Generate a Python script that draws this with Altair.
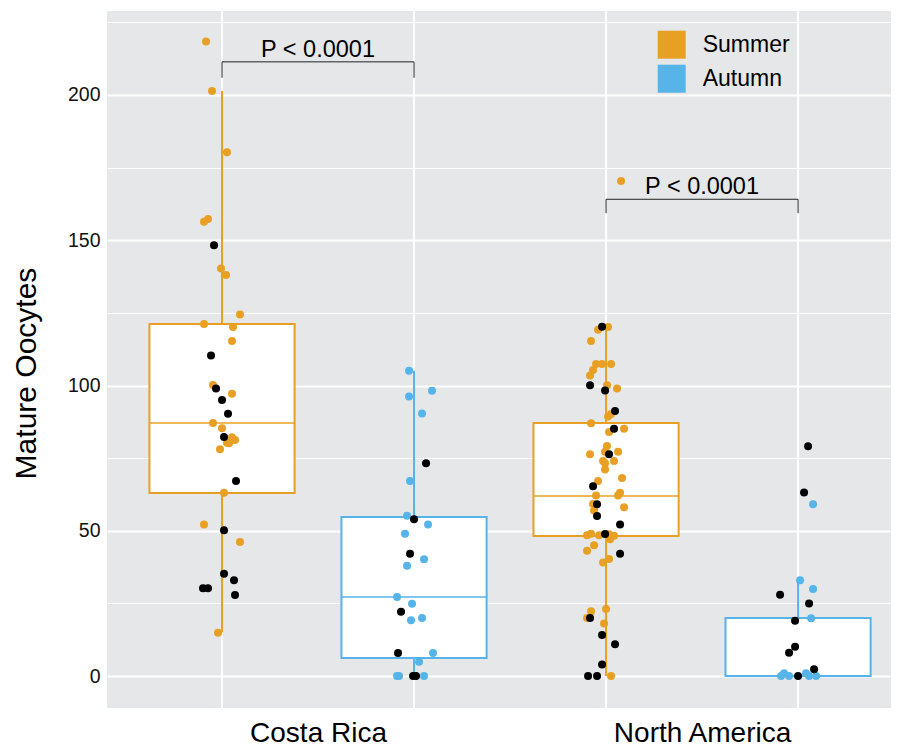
import altair as alt
import pandas as pd

FONT = "Liberation Sans, Arial, Helvetica, sans-serif"

# ---------------- data ----------------
seasons = ["Summer", "Autumn"]
season_colors = ["#E8A024", "#56B4E9"]
regions = ["Costa Rica", "North America"]
region_centers = [1.5, 3.5]

group_pos = [1, 2, 3, 4]
group_season = ["Summer", "Autumn", "Summer", "Autumn"]

q1 = [63.0, 6.2, 48.2, 0.0]
median = [87.1, 27.2, 62.0, 0.0]
q3 = [121.2, 54.7, 87.1, 20.0]
whisker_low = [15.0, 0.0, 0.0, 0.0]
whisker_high = [201.4, 105.1, 120.8, 33.0]

# jitter is given in 1/192 of the spacing between groups
cr_summer_vals = [218.4, 201.4, 180.3, 156.4, 157.3, 140.3, 138.0, 124.4, 121.2, 120.1, 115.3,
                  100.2, 97.2, 87.1, 85.3, 82.2, 81.2, 80.1, 80.3, 78.1, 63.1, 52.2, 46.1, 14.9]
cr_summer_jit = [-16, -10, 5, -18, -14, -1, 4, 18, -18, 11, 10,
                 -9, 10, -9, 0, 10, 13, 7, 5, -2, 2, -18, 18, -4]
cr_summer_black_vals = [148.3, 110.3, 99.0, 95.0, 90.3, 82.3, 67.1, 50.2, 35.2, 33.0, 30.2, 30.2, 27.9]
cr_summer_black_jit = [-8, -11, -6, 0, 6, 2, 14, 2, 2, 12, -19, -14, 13]

cr_autumn_vals = [105.1, 98.2, 96.2, 90.4, 67.1, 55.2, 52.2, 49.0, 40.2, 38.0, 27.2, 24.9,
                  19.2, 20.0, 7.9, 4.9, 0, 0, 0]
cr_autumn_jit = [-5, 18, -5, 8, -4, -7, 14, -9, 10, -7, -17, -2, -3, 8, 19, 5, -17, -15, 10]
cr_autumn_black_vals = [73.2, 54.0, 42.1, 22.1, 7.9, 0, 0]
cr_autumn_black_jit = [12, 0, -4, -13, -16, -1, 2]

na_summer_vals = [170.4, 120.1, 119.2, 115.3, 107.4, 107.4, 107.4, 105.3, 103.4, 100.1, 99.0,
                  89.3, 90.2, 87.0, 85.1, 84.0, 79.2, 77.2, 77.2, 76.3, 74.0, 73.2, 74.0, 71.1,
                  68.2, 67.1, 63.1, 62.1, 62.1, 59.2, 58.1, 57.0, 48.5, 49.0, 48.5, 48.8, 48.3,
                  47.1, 45.0, 43.1, 40.3, 39.1, 23.1, 22.3, 20.0, 18.1, 0]
na_summer_jit = [15, 2, -8, -15, -10, -4, 5, -13, -16, 1, 11,
                 2, 5, -15, 18, 3, 1, -1, 12, -16, -3, -1, 8, -1,
                 16, -8, 14, 12, -10, -13, 18, -12, -19, -15, -7, 3, 8,
                 4, -12, -19, 3, -3, 0, -15, -19, -2, 5]
na_summer_black_vals = [120.2, 100.1, 98.3, 91.2, 85.1, 76.3, 65.3, 59.1, 55.1, 52.2, 48.9,
                        42.1, 20.0, 14.1, 10.9, 4.0, 0, 0]
na_summer_black_jit = [-4, -16, -1, 9, 8, 3, -13, -9, -9, 14, -1, 14, -16, -4, 9, -4, -18, -9]

na_autumn_vals = [59.1, 33.0, 30.0, 19.9, 0, 1, 0, 1, 0, 0]
na_autumn_jit = [15, 2, 15, 13, -17, -14, -9, 8, 11, 18]
na_autumn_black_vals = [79.1, 63.2, 28.0, 25.0, 19.0, 10.1, 8.0, 2.3, 0]
na_autumn_black_jit = [10, 6, -18, 11, -3, -3, -9, 16, 0]

p_labels = ["P < 0.0001", "P < 0.0001"]
bracket_left = [1, 3]
bracket_right = [2, 4]
bracket_y = [211.4, 164.1]
bracket_tip = [205.9, 159.3]

y_ticks = [0, 25, 50, 75, 100, 125, 150, 175, 200, 225]

# ---------------- tables ----------------
BOX_HALF = 0.378
JITTER_UNIT = 192.0

boxes = pd.DataFrame({
    "pos": group_pos, "season": group_season,
    "q1": q1, "median": median, "q3": q3, "lo": whisker_low, "hi": whisker_high,
})
boxes["left"] = boxes["pos"] - BOX_HALF
boxes["right"] = boxes["pos"] + BOX_HALF

rows = []
groups = [
    (1, "Summer", cr_summer_vals, cr_summer_jit, cr_summer_black_vals, cr_summer_black_jit),
    (2, "Autumn", cr_autumn_vals, cr_autumn_jit, cr_autumn_black_vals, cr_autumn_black_jit),
    (3, "Summer", na_summer_vals, na_summer_jit, na_summer_black_vals, na_summer_black_jit),
    (4, "Autumn", na_autumn_vals, na_autumn_jit, na_autumn_black_vals, na_autumn_black_jit),
]
for pos, season, vals, jit, bvals, bjit in groups:
    for v, j in zip(vals, jit):
        rows.append({"x": pos + j / JITTER_UNIT, "value": v, "season": season, "black": False})
    for v, j in zip(bvals, bjit):
        rows.append({"x": pos + j / JITTER_UNIT, "value": v, "season": season, "black": True})
points = pd.DataFrame(rows)
colored = points[~points["black"]]
blacks = points[points["black"]]

brackets = pd.DataFrame({
    "left": bracket_left, "right": bracket_right, "y": bracket_y, "tip": bracket_tip,
    "label": p_labels,
})
brackets["mid"] = (brackets["left"] + brackets["right"]) / 2
tips = pd.DataFrame({
    "x": bracket_left + bracket_right,
    "y": bracket_y + bracket_y,
    "tip": bracket_tip + bracket_tip,
})

grid_df = pd.DataFrame({"pos": group_pos})

# ---------------- scales ----------------
x_scale = alt.Scale(domain=[0.401, 4.484], nice=False, zero=False)
y_scale = alt.Scale(domain=[-11.0, 228.9], nice=False, zero=False)
color_scale = alt.Scale(domain=seasons, range=season_colors)

label_expr = " : ".join(
    [f"datum.value == {c} ? '{r}'" for r, c in zip(regions, region_centers)] + ["''"]
)

x_axis = alt.Axis(values=region_centers, labelExpr=label_expr, grid=False, ticks=False,
                  domain=False, labelFontSize=28, labelPadding=11, labelColor="black",
                  labelFont=FONT, title="")
y_axis = alt.Axis(values=y_ticks, labelExpr="datum.value % 50 === 0 ? datum.label : ''",
                  grid=True, gridColor="white",
                  gridWidth={"condition": {"test": "datum.value % 50 === 0", "value": 2}, "value": 1},
                  ticks=False, domain=False, labelFontSize=19.5, labelPadding=7,
                  labelColor="#111111", labelFont=FONT,
                  title="Mature Oocytes", titleFontSize=30, titleFontWeight="normal",
                  titleFont=FONT, titleColor="black", titleAngle=270,
                  titleX=-81, titleY=362, titleAlign="center", titleBaseline="middle")

legend = alt.Legend(orient="none", legendX=550.7, legendY=19.7,
                    symbolType="square", symbolSize=784,
                    symbolStrokeWidth=0, symbolOpacity=1, symbolFillColor="transparent",
                    labelFontSize=23, labelOffset=17, labelFont=FONT,
                    labelColor="black", rowPadding=6, padding=0)

color_enc = alt.Color("season:N", scale=color_scale, title=None, legend=legend)

# ---------------- layers ----------------
vgrid = alt.Chart(grid_df).mark_rule(color="white", strokeWidth=2).encode(
    x=alt.X("pos:Q", scale=x_scale, axis=x_axis),
)

whisk_up = alt.Chart(boxes).mark_rule(strokeWidth=2).encode(
    x=alt.X("pos:Q", scale=x_scale),
    y=alt.Y("q3:Q", scale=y_scale, axis=y_axis),
    y2="hi:Q",
    color=color_enc,
)
whisk_down = alt.Chart(boxes).mark_rule(strokeWidth=2).encode(
    x=alt.X("pos:Q", scale=x_scale),
    y=alt.Y("lo:Q", scale=y_scale),
    y2="q1:Q",
    color=color_enc,
)
box = alt.Chart(boxes).mark_rect(filled=False, fill="white", strokeWidth=2).encode(
    x=alt.X("left:Q", scale=x_scale),
    x2="right:Q",
    y=alt.Y("q1:Q", scale=y_scale),
    y2="q3:Q",
    color=color_enc,
)
med = alt.Chart(boxes).mark_rule(strokeWidth=1.5).encode(
    x=alt.X("left:Q", scale=x_scale),
    x2="right:Q",
    y=alt.Y("median:Q", scale=y_scale),
    color=color_enc,
)

pts = alt.Chart(colored).mark_circle(size=64, opacity=1).encode(
    x=alt.X("x:Q", scale=x_scale),
    y=alt.Y("value:Q", scale=y_scale),
    color=color_enc,
)
bpts = alt.Chart(blacks).mark_circle(size=64, opacity=1, color="black").encode(
    x=alt.X("x:Q", scale=x_scale),
    y=alt.Y("value:Q", scale=y_scale),
)

br_h = alt.Chart(brackets).mark_rule(color="#222222", strokeWidth=1).encode(
    x=alt.X("left:Q", scale=x_scale),
    x2="right:Q",
    y=alt.Y("y:Q", scale=y_scale),
)
br_v = alt.Chart(tips).mark_rule(color="#222222", strokeWidth=1).encode(
    x=alt.X("x:Q", scale=x_scale),
    y=alt.Y("y:Q", scale=y_scale),
    y2="tip:Q",
)
br_t = alt.Chart(brackets).mark_text(fontSize=23.5, font=FONT, color="black",
                                     baseline="alphabetic", dy=-5).encode(
    x=alt.X("mid:Q", scale=x_scale),
    y=alt.Y("y:Q", scale=y_scale),
    text="label:N",
)

chart = alt.layer(
    vgrid, whisk_up, whisk_down, box, med, pts, bpts, br_h, br_v, br_t
).properties(
    width=784, height=697,
    autosize=alt.AutoSizeParams(type="none"),
    padding={"left": 99, "top": 3, "right": 0, "bottom": 38},
).configure_view(
    fill="#E6E7E9", strokeWidth=0
)

chart.save("out.html", embed_options={"renderer": "svg", "actions": False})
